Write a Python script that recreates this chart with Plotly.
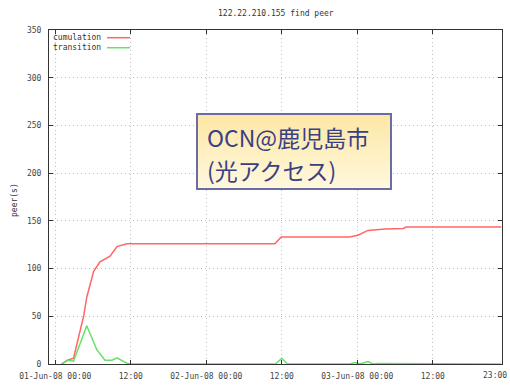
import base64
import plotly.graph_objects as go

# ---- data ----
tick_hours = [0, 12, 24, 36, 48, 60, 71]
tick_labels = ["01-Jun-08 00:00", "12:00", "02-Jun-08 00:00", "12:00",
               "03-Jun-08 00:00", "12:00", "23:00"]

cum_hours = [1.0, 1.9, 2.9, 4.5, 5.0, 6.1, 7.1, 8.7, 9.8, 11.4, 12.0,
             34.9, 35.9, 46.8, 48.1, 49.7, 52.4, 55.3, 55.8, 70.9]
cum_values = [0, 4, 6, 50, 70, 97, 107, 113, 123, 126, 126,
              126, 133, 133, 135, 140, 141.5, 142, 143.5, 143.5]

tr_hours = [1.0, 2.1, 2.9, 5.0, 6.6, 7.9, 9.0, 9.8, 11.4, 11.9,
            35.0, 36.0, 36.9, 46.8, 47.6, 48.4, 49.7, 50.5,
            51.3, 53.5, 54.0, 55.3, 56.5, 57.0, 70.9]
tr_values = [0, 4, 3, 40, 15, 4, 4, 6.5, 0.7, 0,
             0, 6, 0, 0, 1.5, 0, 2.5, 0,
             0.6, 0.6, 0, 0, 0.6, 0, 0]

series_names = ["cumulation", "transition"]
series_colors = ["#ff6666", "#66e066"]

title_text = "122.22.210.155 find peer"
y_title = "peer(s)"
box_lines = ["OCN@鹿児島市", "(光アクセス)"]

# ---- figure ----
W, H = 510, 385
L, R, T, B = 49, 8, 30, 21
pw, ph = W - L - R, H - T - B


def px(x):
    return (x - L) / pw


def py(y):
    return (H - B - y) / ph


fig = go.Figure()
fig.add_trace(go.Scatter(x=cum_hours, y=cum_values, mode="lines",
                         line=dict(color=series_colors[0], width=1.5),
                         name=series_names[0], showlegend=False, hoverinfo="skip"))
fig.add_trace(go.Scatter(x=tr_hours, y=tr_values, mode="lines",
                         line=dict(color=series_colors[1], width=1.5),
                         name=series_names[1], showlegend=False, hoverinfo="skip"))

tickfont = dict(family="DejaVu Sans Mono", size=8, color="#444444")
common = dict(showgrid=True, gridcolor="#bdbdbd", griddash="1px,3px", gridwidth=1,
              showline=True, linecolor="#333333", linewidth=1, mirror="ticks",
              ticks="inside", ticklen=4, tickcolor="#333333", automargin=False,
              tickfont=tickfont, zeroline=False, layer="above traces")
# last tick label is drawn as a right-anchored annotation so it stays inside the page
fig.update_xaxes(range=[-1, 71], tickvals=tick_hours,
                 ticktext=tick_labels[:-1] + [""], ticklabelstandoff=4, **common)
fig.update_yaxes(range=[0, 350], tickvals=list(range(0, 351, 50)),
                 ticklabelstandoff=5, **common)

annotations = [
    dict(text=title_text, xref="paper", yref="paper", x=px(276), y=py(13),
         xanchor="center", yanchor="middle", showarrow=False,
         font=dict(family="DejaVu Sans Mono", size=8, color="#333333")),
    dict(text=y_title, xref="paper", yref="paper", x=px(14), y=py(200),
         xanchor="center", yanchor="middle", showarrow=False, textangle=-90,
         font=dict(family="DejaVu Sans Mono", size=8, color="#333333")),
    dict(text=tick_labels[-1], xref="paper", yref="paper", x=px(509), y=py(375),
         xanchor="right", yanchor="middle", showarrow=False, font=tickfont),
]
shapes = []
for i, (nm, col) in enumerate(zip(series_names, series_colors)):
    yy = 37.7 + 10 * i
    annotations.append(dict(text=nm, xref="paper", yref="paper", x=px(51), y=py(yy),
                            xanchor="left", yanchor="middle", showarrow=False,
                            font=dict(family="DejaVu Sans Mono", size=8, color="#333333")))
    shapes.append(dict(type="line", xref="paper", yref="paper",
                       x0=px(107), x1=px(130), y0=py(yy), y1=py(yy),
                       line=dict(color=col, width=1.5)))

# label box (gradient background via svg image)
bx0, by0, bx1, by1 = 196, 113, 392, 190
svg = ('<svg xmlns="http://www.w3.org/2000/svg" width="196" height="77" '
       'viewBox="0 0 196 77" preserveAspectRatio="none">'
       '<defs><linearGradient id="g" x1="0" y1="0" x2="0" y2="1">'
       '<stop offset="0" stop-color="#fde7a4"/><stop offset="1" stop-color="#fff8de"/>'
       '</linearGradient></defs>'
       '<rect x="1" y="1" width="194" height="75" fill="url(#g)" stroke="#6c6ca4" stroke-width="2"/>'
       '</svg>')
src = "data:image/svg+xml;base64," + base64.b64encode(svg.encode()).decode()
fig.add_layout_image(dict(source=src, xref="paper", yref="paper",
                          x=px(bx0), y=py(by0), sizex=(bx1 - bx0) / pw,
                          sizey=(by1 - by0) / ph, sizing="stretch",
                          xanchor="left", yanchor="top", layer="above"))
for line_text, yc in zip(box_lines, [137, 170]):
    annotations.append(dict(text=line_text, xref="paper", yref="paper",
                            x=px(205), y=py(yc), xanchor="left", yanchor="middle",
                            showarrow=False,
                            font=dict(family="Noto Sans CJK JP", size=23, color="#3b3f86")))

fig.update_layout(width=W, height=H,
                  margin=dict(l=L, r=R, t=T, b=B),
                  paper_bgcolor="white", plot_bgcolor="white",
                  annotations=annotations, shapes=shapes, showlegend=False)
fig.write_html("out.html", config={"displayModeBar": False},
               post_script="document.body.style.margin='0';document.body.style.overflow='hidden';")
